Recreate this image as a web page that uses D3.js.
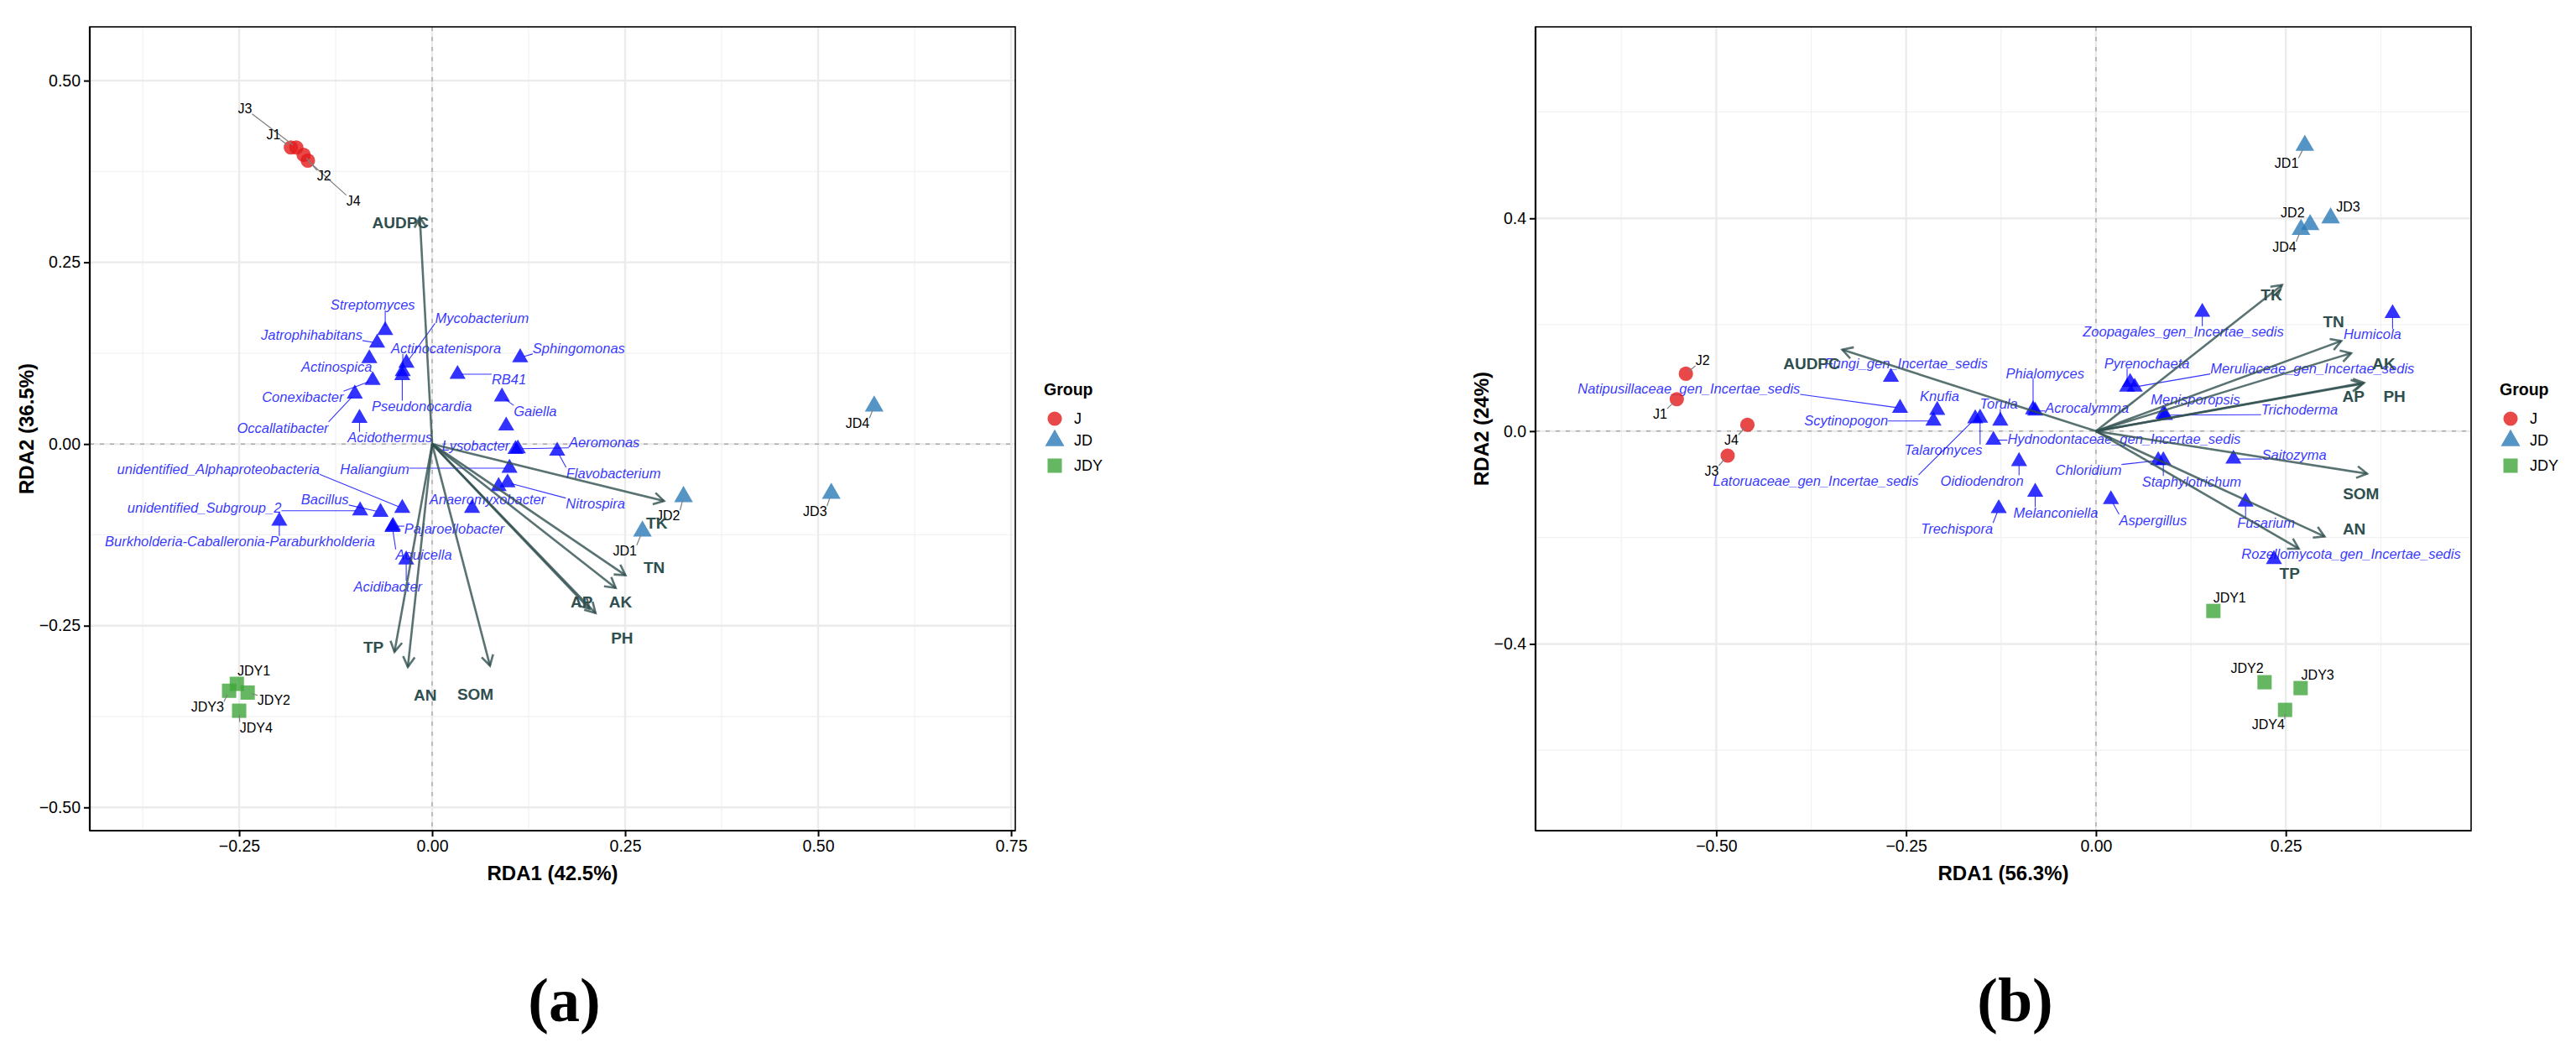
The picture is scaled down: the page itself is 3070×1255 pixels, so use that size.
<!DOCTYPE html>
<html>
<head>
<meta charset="utf-8">
<script src="https://cdn.jsdelivr.net/npm/d3@7"></script>
<style>
body{margin:0;background:#fff;}
text{font-family:"Liberation Sans",Arial,sans-serif;}
</style>
</head>
<body>
<svg id="canvas" width="3070" height="1255"></svg>
<script>
// ---------- data ----------
const groups=["J","JD","JDY"];
const sampleNames=["J1","J2","J3","J4","JD1","JD2","JD3","JD4","JDY1","JDY2","JDY3","JDY4"];
const sampleGroup=["J","J","J","J","JD","JD","JD","JD","JDY","JDY","JDY","JDY"];
const envNames=["AUDPC","TP","AN","SOM","AP","PH","AK","TN","TK"];

// panel (a) bacteria
const aSampleRDA1=[-0.183,-0.1665,-0.176,-0.161,0.2724,0.3256,0.517,0.5726,-0.253,-0.239,-0.263,-0.250];
const aSampleRDA2=[0.408,0.398,0.408,0.390,-0.120,-0.0725,-0.068,0.052,-0.330,-0.342,-0.3395,-0.367];
const aSampleLabX=[-0.2056,-0.140,-0.2425,-0.102,0.2496,0.3057,0.496,0.551,-0.231,-0.205,-0.291,-0.228];
const aSampleLabY=[0.426,0.369,0.4615,0.335,-0.1466,-0.0984,-0.093,0.028,-0.312,-0.353,-0.362,-0.390];

const aEnvRDA1=[-0.016,-0.0488,-0.0315,0.0749,0.2037,0.2116,0.2377,0.2504,0.3003];
const aEnvRDA2=[0.312,-0.286,-0.3067,-0.305,-0.2269,-0.2326,-0.198,-0.1806,-0.0783];
const aEnvLabX=[-0.041,-0.076,-0.009,0.056,0.1936,0.246,0.244,0.2876,0.291];
const aEnvLabY=[0.305,-0.280,-0.346,-0.3445,-0.217,-0.267,-0.217,-0.1698,-0.109];

const aTaxa=["Streptomyces","Mycobacterium","Jatrophihabitans","Actinocatenispora","Sphingomonas","Actinospica","RB41",
  "Conexibacter","Pseudonocardia","Gaiella","Occallatibacter","Acidothermus","Lysobacter","Aeromonas",
  "unidentified_Alphaproteobacteria","Haliangium","Flavobacterium","Anaeromyxobacter","Nitrospira","Bacillus",
  "unidentified_Subgroup_2","Pajaroellobacter","Burkholderia-Caballeronia-Paraburkholderia","Aquicella","Acidibacter","",""];
const aTaxaRDA1=[-0.0608,-0.0333,-0.0713,-0.038,0.114,-0.0814,0.0329,-0.0771,-0.0387,0.0904,-0.1002,-0.0941,0.108,0.111,
  -0.0387,0.1002,0.162,0.0517,0.0977,-0.0669,-0.0933,-0.0507,-0.198,-0.0515,-0.0336,0.0959,0.0861];
const aTaxaRDA2=[0.1563,0.1115,0.139,0.0999,0.119,0.1177,0.096,0.0876,0.0945,0.065,0.069,0.0355,-0.0073,-0.0065,
  -0.0883,-0.0332,-0.0096,-0.0883,-0.0532,-0.0938,-0.0918,-0.113,-0.106,-0.1145,-0.1593,0.025,-0.0583];
const aTaxaLabX=[-0.077,0.0645,-0.156,0.018,0.190,-0.1237,0.0995,-0.1676,-0.0134,0.1335,-0.1935,-0.0547,0.0565,0.223,
  -0.277,-0.0744,0.2348,0.0717,0.2115,-0.139,-0.295,0.0287,-0.249,-0.0108,-0.0573,0,0];
const aTaxaLabY=[0.1916,0.1737,0.150,0.1315,0.1315,0.107,0.0893,0.065,0.052,0.0455,0.0227,0.0089,-0.0024,0.0024,
  -0.034,-0.034,-0.0398,-0.0755,-0.082,-0.0763,-0.0877,-0.116,-0.134,-0.1526,-0.1956,0,0];

// panel (b) fungi
const bSampleRDA1=[-0.552,-0.540,-0.485,-0.459,0.275,0.282,0.309,0.270,0.1546,0.222,0.2695,0.249];
const bSampleRDA2=[0.060,0.108,-0.046,0.012,0.537,0.388,0.4006,0.379,-0.338,-0.472,-0.483,-0.524];
const bSampleLabX=[-0.574,-0.518,-0.506,-0.480,0.251,0.259,0.332,0.248,0.176,0.199,0.292,0.227];
const bSampleLabY=[0.032,0.133,-0.075,-0.017,0.503,0.410,0.422,0.346,-0.313,-0.446,-0.459,-0.552];

const bEnvRDA1=[-0.334,0.267,0.301,0.357,0.353,0.350,0.336,0.323,0.245];
const bEnvRDA2=[0.153,-0.221,-0.198,-0.080,0.091,0.089,0.1466,0.1695,0.2747];
const bEnvLabX=[-0.3745,0.255,0.340,0.349,0.339,0.393,0.379,0.313,0.231];
const bEnvLabY=[0.127,-0.267,-0.184,-0.118,0.065,0.065,0.126,0.206,0.256];

const bTaxa=["Zoopagales_gen_Incertae_sedis","Humicola","Fungi_gen_Incertae_sedis","Pyrenochaeta","Meruliaceae_gen_Incertae_sedis",
  "Phialomyces","Natipusillaceae_gen_Incertae_sedis","Knufia","Torula","Acrocalymma","Menisporopsis","Trichoderma","Scytinopogon",
  "Hydnodontaceae_gen_Incertae_sedis","Talaromyces","Saitozyma","Chloridium","Latoruaceae_gen_Incertae_sedis","Oidiodendron",
  "Staphylotrichum","Melanconiella","Aspergillus","Fusarium","Trechispora","Rozellomycota_gen_Incertae_sedis",""];
const bTaxaRDA1=[0.140,0.3906,-0.270,0.041,0.051,-0.0828,-0.258,-0.209,-0.126,-0.080,0.0887,0.091,-0.214,
  -0.135,-0.1526,0.181,0.082,-0.159,-0.1013,0.0887,-0.080,0.0197,0.197,-0.128,0.2344,0.045];
const bTaxaRDA2=[0.2237,0.2213,0.1014,0.083,0.083,0.0406,0.0434,0.0394,0.0192,0.038,0.032,0.030,0.0192,
  -0.0169,0.0248,-0.0524,-0.055,0.0237,-0.0569,-0.055,-0.1144,-0.1285,-0.133,-0.1454,-0.241,0.092];
const bTaxaLabX=[0.115,0.364,-0.250,0.067,0.285,-0.067,-0.536,-0.206,-0.128,-0.0118,0.131,0.268,-0.329,
  0.037,-0.201,0.261,-0.0099,-0.369,-0.150,0.126,-0.053,0.075,0.224,-0.183,0.336,0];
const bTaxaLabY=[0.187,0.182,0.128,0.128,0.118,0.109,0.0796,0.0659,0.0518,0.0434,0.059,0.0414,0.0208,
  -0.0146,-0.0355,-0.044,-0.0732,-0.093,-0.0935,-0.0946,-0.153,-0.1668,-0.172,-0.183,-0.231,0];

// ---------- styling ----------
const groupFill={J:"#E41A1C",JD:"#2A7AB8",JDY:"#3FA53A"};
const envCol="#2F4F4F";
const taxaCol="#0000FF";

let canvas=d3.select("#canvas");
canvas.append("rect").attr("width",3070).attr("height",1255).attr("fill","#fff");

function groupSymbol(g,size){
  let type=g=="J"?d3.symbolCircle:(g=="JD"?d3.symbolTriangle:d3.symbolSquare);
  return d3.symbol().type(type).size(size)();
}

// draws a segment from the point to the nearest edge of the label box
function repelSegment(layer,px,py,txt,fs,color,w){
  let len=txt.node().getComputedTextLength();
  let tx=+txt.attr("x"),ty=+txt.attr("y");
  let x0=tx-len/2,x1=tx+len/2,y0=ty-fs*0.4,y1=ty+fs*0.4;
  let cx=Math.max(x0,Math.min(px,x1)),cy=Math.max(y0,Math.min(py,y1));
  let d=Math.hypot(cx-px,cy-py);
  if(d<11) return;
  let k=5/d;
  layer.append("line").attr("x1",px+(cx-px)*k).attr("y1",py+(cy-py)*k).attr("x2",cx).attr("y2",cy)
    .attr("stroke",color).attr("stroke-width",w);
}

function drawPanel(p){
  let x=d3.scaleLinear().domain(p.xDom).range([p.left,p.right]);
  let y=d3.scaleLinear().domain(p.yDom).range([p.bottom,p.top]);
  let g=canvas.append("g");

  // grid
  p.xMinor.forEach(v=>g.append("line").attr("x1",x(v)).attr("x2",x(v)).attr("y1",p.top).attr("y2",p.bottom).attr("stroke","#F2F2F2").attr("stroke-width",1.3));
  p.yMinor.forEach(v=>g.append("line").attr("y1",y(v)).attr("y2",y(v)).attr("x1",p.left).attr("x2",p.right).attr("stroke","#F2F2F2").attr("stroke-width",1.3));
  p.xTicks.forEach(v=>g.append("line").attr("x1",x(v)).attr("x2",x(v)).attr("y1",p.top).attr("y2",p.bottom).attr("stroke","#EBEBEB").attr("stroke-width",2.4));
  p.yTicks.forEach(v=>g.append("line").attr("y1",y(v)).attr("y2",y(v)).attr("x1",p.left).attr("x2",p.right).attr("stroke","#EBEBEB").attr("stroke-width",2.4));
  g.append("line").attr("x1",x(0)).attr("x2",x(0)).attr("y1",p.top).attr("y2",p.bottom).attr("stroke","#ABABAB").attr("stroke-width",1.5).attr("stroke-dasharray","5,7");
  g.append("line").attr("y1",y(0)).attr("y2",y(0)).attr("x1",p.left).attr("x2",p.right).attr("stroke","#ABABAB").attr("stroke-width",1.5).attr("stroke-dasharray","5,7");

  // taxa points
  let tri=d3.symbol().type(d3.symbolTriangle).size(160);
  p.taxa.forEach((n,i)=>{
    g.append("path").attr("d",tri()).attr("transform",`translate(${x(p.taxaX[i])},${y(p.taxaY[i])})`)
      .attr("fill",taxaCol).attr("fill-opacity",0.8);
  });
  let segL=g.append("g"),labL=g.append("g");
  p.taxa.forEach((n,i)=>{
    if(!n) return;
    let t=labL.append("text").text(n).attr("x",x(p.taxaLX[i])).attr("y",y(p.taxaLY[i]))
      .attr("text-anchor","middle").attr("dominant-baseline","central")
      .style("font-size","16.5px").style("font-style","italic").attr("fill",taxaCol).attr("fill-opacity",0.8);
    repelSegment(segL,x(p.taxaX[i]),y(p.taxaY[i]),t,16.5,"rgba(0,0,255,0.8)",1.1);
  });

  // samples
  sampleNames.forEach((n,i)=>{
    let gr=sampleGroup[i];
    let sz=gr=="J"?230:(gr=="JD"?215:290);
    g.append("path").attr("d",groupSymbol(gr,sz)).attr("transform",`translate(${x(p.sX[i])},${y(p.sY[i])})`)
      .attr("fill",groupFill[gr]).attr("fill-opacity",0.8);
  });
  let sSeg=g.append("g"),sLab=g.append("g");
  sampleNames.forEach((n,i)=>{
    let t=sLab.append("text").text(n).attr("x",x(p.sLX[i])).attr("y",y(p.sLY[i]))
      .attr("text-anchor","middle").attr("dominant-baseline","central").style("font-size","16px").attr("fill","#000");
    repelSegment(sSeg,x(p.sX[i]),y(p.sY[i]),t,16,"#7f7f7f",1.2);
  });

  // environmental arrows
  envNames.forEach((n,i)=>{
    let x1=x(p.eX[i]),y1=y(p.eY[i]),x0=x(0),y0=y(0);
    let a=Math.atan2(y1-y0,x1-x0),L=14,h=Math.PI/6;
    g.append("line").attr("x1",x0).attr("y1",y0).attr("x2",x1).attr("y2",y1)
      .attr("stroke",envCol).attr("stroke-opacity",0.8).attr("stroke-width",2.6);
    g.append("path").attr("d",`M${x1-L*Math.cos(a-h)},${y1-L*Math.sin(a-h)}L${x1},${y1}L${x1-L*Math.cos(a+h)},${y1-L*Math.sin(a+h)}`)
      .attr("fill","none").attr("stroke",envCol).attr("stroke-opacity",0.8).attr("stroke-width",2.6).attr("stroke-linejoin","miter");
  });
  envNames.forEach((n,i)=>{
    g.append("text").text(n).attr("x",x(p.eLX[i])).attr("y",y(p.eLY[i])).attr("text-anchor","middle")
      .attr("dominant-baseline","central").style("font-size","19px").style("font-weight","bold").attr("fill",envCol);
  });

  // frame and axes
  g.append("rect").attr("x",p.left).attr("y",p.top).attr("width",p.right-p.left).attr("height",p.bottom-p.top)
    .attr("fill","none").attr("stroke","#000").attr("stroke-width",1.6);
  g.append("line").attr("x1",p.left).attr("x2",p.right).attr("y1",p.bottom).attr("y2",p.bottom).attr("stroke","#000").attr("stroke-width",2.2);
  g.append("line").attr("x1",p.left).attr("x2",p.left).attr("y1",p.top).attr("y2",p.bottom).attr("stroke","#000").attr("stroke-width",2.2);

  let xa=g.append("g").attr("transform",`translate(0,${p.bottom})`)
    .call(d3.axisBottom(x).tickValues(p.xTicks).tickFormat(d3.format(p.xFmt)).tickSize(7).tickPadding(4));
  let ya=g.append("g").attr("transform",`translate(${p.left},0)`)
    .call(d3.axisLeft(y).tickValues(p.yTicks).tickFormat(d3.format(p.yFmt)).tickSize(7).tickPadding(4));
  [xa,ya].forEach(a=>{
    a.select(".domain").remove();
    a.selectAll(".tick line").attr("stroke","#000").attr("stroke-width",2);
    a.selectAll(".tick text").style("font-size","19.5px").style("font-family","'Liberation Sans',Arial,sans-serif").attr("fill","#000");
  });

  g.append("text").text(p.xTitle).attr("x",(p.left+p.right)/2).attr("y",1049).attr("text-anchor","middle")
    .style("font-size","24px").style("font-weight","bold");
  g.append("text").text(p.yTitle).attr("transform",`translate(${p.yTitleX},${(p.top+p.bottom)/2}) rotate(-90)`)
    .attr("text-anchor","middle").attr("dominant-baseline","central").style("font-size","24px").style("font-weight","bold");

  // legend
  let lg=g.append("g").attr("transform",`translate(${p.legendX},0)`);
  lg.append("text").text("Group").attr("x",0).attr("y",471).style("font-size","19.5px").style("font-weight","bold");
  groups.forEach((gr,i)=>{
    let cy=[499,525,555][i];
    let sz=gr=="J"?230:(gr=="JD"?230:290);
    lg.append("path").attr("d",groupSymbol(gr,sz)).attr("transform",`translate(13,${cy})`).attr("fill",groupFill[gr]).attr("fill-opacity",0.8);
    lg.append("text").text(gr).attr("x",36).attr("y",cy).attr("dominant-baseline","central").style("font-size","18px");
  });

  canvas.append("text").text(p.tag).attr("x",(p.left+p.right)/2+14).attr("y",1217).attr("text-anchor","middle")
    .style("font-family","'Liberation Serif','Times New Roman',serif").style("font-weight","bold").style("font-size","74px");
}

drawPanel({
  left:107,right:1210,top:32,bottom:990,
  xDom:[-0.4435,0.7554],yDom:[-0.532,0.574],
  xTicks:[-0.25,0,0.25,0.5,0.75],yTicks:[-0.5,-0.25,0,0.25,0.5],
  xMinor:[-0.375,-0.125,0.125,0.375,0.625],yMinor:[-0.375,-0.125,0.125,0.375],
  xFmt:".2f",yFmt:".2f",
  xTitle:"RDA1 (42.5%)",yTitle:"RDA2 (36.5%)",yTitleX:31,legendX:1244,tag:"(a)",
  taxa:aTaxa,taxaX:aTaxaRDA1,taxaY:aTaxaRDA2,taxaLX:aTaxaLabX,taxaLY:aTaxaLabY,
  sX:aSampleRDA1,sY:aSampleRDA2,sLX:aSampleLabX,sLY:aSampleLabY,
  eX:aEnvRDA1,eY:aEnvRDA2,eLX:aEnvLabX,eLY:aEnvLabY
});

drawPanel({
  left:1830,right:2945,top:32,bottom:990,
  xDom:[-0.738,0.494],yDom:[-0.751,0.760],
  xTicks:[-0.5,-0.25,0,0.25],yTicks:[-0.4,0,0.4],
  xMinor:[-0.625,-0.375,-0.125,0.125,0.375],yMinor:[-0.6,-0.2,0.2,0.6],
  xFmt:".2f",yFmt:".1f",
  xTitle:"RDA1 (56.3%)",yTitle:"RDA2 (24%)",yTitleX:1765,legendX:2979,tag:"(b)",
  taxa:bTaxa,taxaX:bTaxaRDA1,taxaY:bTaxaRDA2,taxaLX:bTaxaLabX,taxaLY:bTaxaLabY,
  sX:bSampleRDA1,sY:bSampleRDA2,sLX:bSampleLabX,sLY:bSampleLabY,
  eX:bEnvRDA1,eY:bEnvRDA2,eLX:bEnvLabX,eLY:bEnvLabY
});
</script>
</body>
</html>
